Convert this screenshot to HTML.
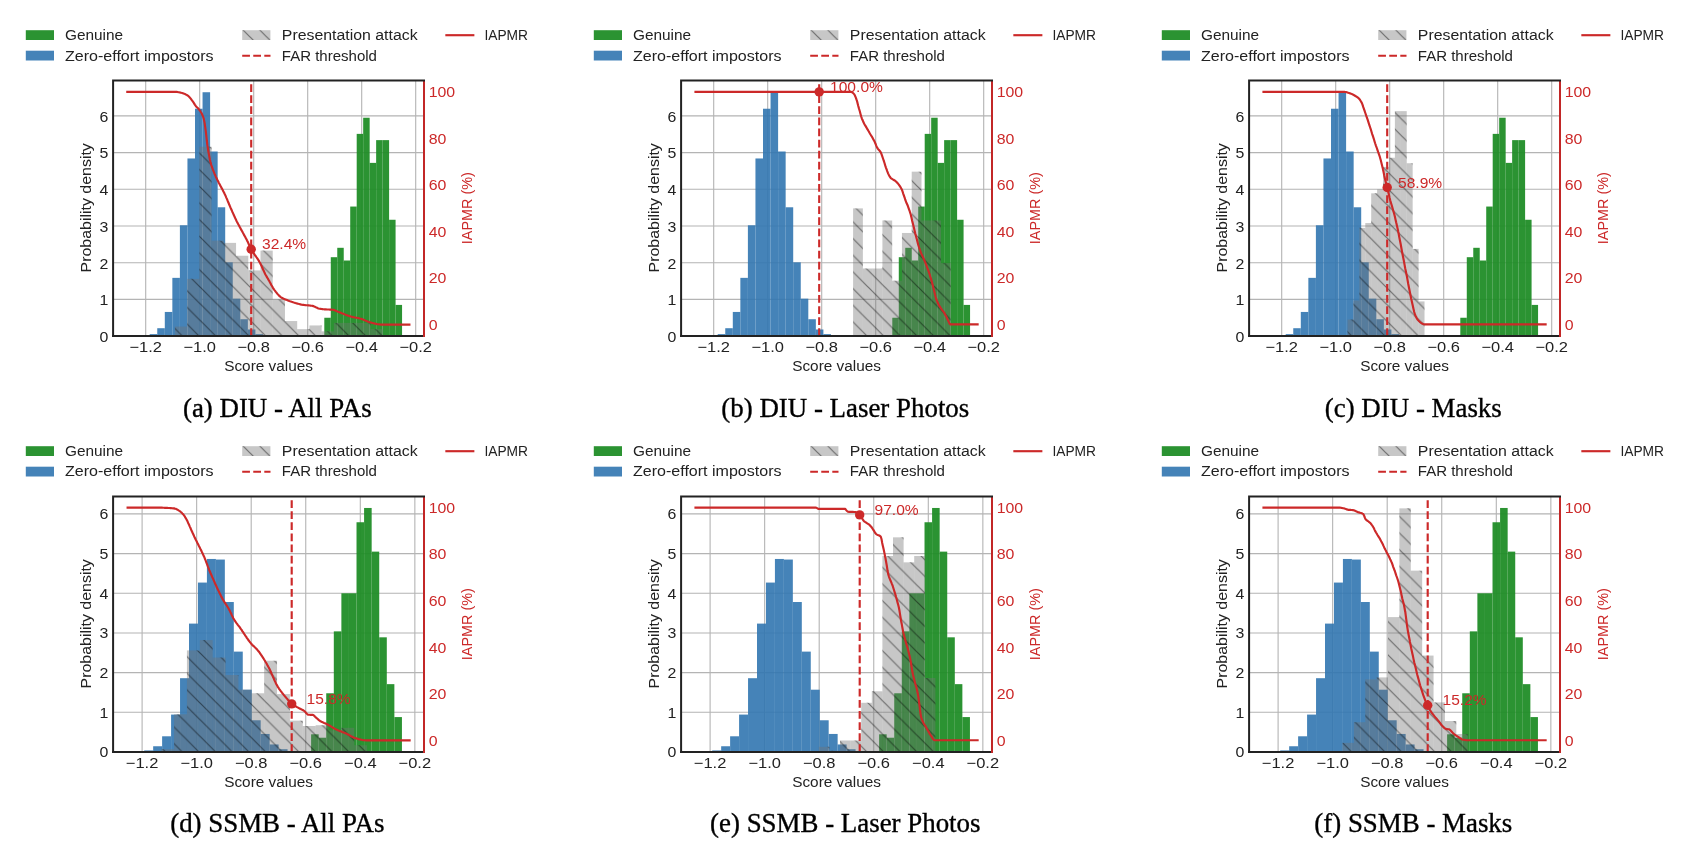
<!DOCTYPE html>
<html><head><meta charset="utf-8"><title>Figure</title>
<style>html,body{margin:0;padding:0;background:#fff}svg{display:block;will-change:transform}text{font-family:"Liberation Sans",sans-serif}text.cap{font-family:"Liberation Serif",serif}</style>
</head><body>
<svg width="1686" height="845" viewBox="0 0 1686 845">
<rect width="1686" height="845" fill="#fff"/>
<defs>
<pattern id="hatch0" patternUnits="userSpaceOnUse" x="0" y="-46.40" width="16.67" height="16.67"><path d="M-16.67,-16.67L33.34,33.34M0,-16.67L50.010000000000005,33.34M-33.34,-16.67L16.67,33.34" stroke="#000" stroke-opacity="0.45" stroke-width="1.2" fill="none"/></pattern>
<pattern id="hatch1" patternUnits="userSpaceOnUse" x="0" y="-46.40" width="16.67" height="16.67"><path d="M-16.67,-16.67L33.34,33.34M0,-16.67L50.010000000000005,33.34M-33.34,-16.67L16.67,33.34" stroke="#000" stroke-opacity="0.45" stroke-width="1.2" fill="none"/></pattern>
<clipPath id="clip"><rect x="113.1" y="80.6" width="310.9" height="255.50000000000003"/></clipPath>
</defs>
<g transform="translate(0,0)">
<rect x="25.8" y="30.2" width="28.2" height="9.8" fill="#208d27" fill-opacity="0.95"/>
<rect x="25.8" y="50.7" width="28.2" height="9.8" fill="#3176b0" fill-opacity="0.90"/>
<rect x="242.2" y="30.2" width="28.2" height="9.8" fill="#737373" fill-opacity="0.40"/>
<rect x="242.2" y="30.2" width="28.2" height="9.8" fill="url(#hatch0)"/>
<line x1="242.2" y1="55.7" x2="270.5" y2="55.7" stroke="#cc2929" stroke-width="2.15" stroke-dasharray="7.75 3.3"/>
<line x1="446.4" y1="35.2" x2="473.3" y2="35.2" stroke="#cc2929" stroke-width="2.15" stroke-linecap="square"/>
<text x="65.00" y="40.00" text-anchor="start" fill="#222222" font-size="14.7" textLength="58.12" lengthAdjust="spacingAndGlyphs">Genuine</text>
<text x="65.00" y="60.50" text-anchor="start" fill="#222222" font-size="14.7" textLength="148.51" lengthAdjust="spacingAndGlyphs">Zero-effort impostors</text>
<text x="281.80" y="40.00" text-anchor="start" fill="#222222" font-size="14.7" textLength="135.79" lengthAdjust="spacingAndGlyphs">Presentation attack</text>
<text x="281.80" y="60.50" text-anchor="start" fill="#222222" font-size="14.7" textLength="95.15" lengthAdjust="spacingAndGlyphs">FAR threshold</text>
<text x="484.40" y="40.00" text-anchor="start" fill="#222222" font-size="14.7" textLength="43.61" lengthAdjust="spacingAndGlyphs">IAPMR</text>
<path d="M145.70,80.6V336.1M199.70,80.6V336.1M253.70,80.6V336.1M307.70,80.6V336.1M361.70,80.6V336.1M415.70,80.6V336.1M113.1,299.40H424.0M113.1,262.70H424.0M113.1,226.00H424.0M113.1,189.30H424.0M113.1,152.60H424.0M113.1,115.90H424.0" stroke="#b4b4b4" stroke-width="1.1" fill="none"/>
<g clip-path="url(#clip)">
<g fill="#208d27" fill-opacity="0.95"><rect x="324.30" y="317.75" width="6.48" height="18.35"/><rect x="330.78" y="257.20" width="6.48" height="78.91"/><rect x="337.26" y="247.80" width="6.48" height="88.30"/><rect x="343.74" y="260.50" width="6.48" height="75.60"/><rect x="350.22" y="206.55" width="6.48" height="129.55"/><rect x="356.70" y="133.88" width="6.48" height="202.22"/><rect x="363.18" y="117.73" width="6.48" height="218.37"/><rect x="369.66" y="162.88" width="6.48" height="173.22"/><rect x="376.14" y="140.12" width="6.48" height="195.98"/><rect x="382.62" y="140.12" width="6.48" height="195.98"/><rect x="389.10" y="219.76" width="6.48" height="116.34"/><rect x="395.58" y="304.91" width="6.48" height="31.20"/></g>
<g fill="#3176b0" fill-opacity="0.9"><rect x="149.70" y="334.12" width="7.55" height="1.98"/><rect x="157.25" y="328.21" width="7.55" height="7.89"/><rect x="164.80" y="311.95" width="7.55" height="24.15"/><rect x="172.35" y="277.86" width="7.55" height="58.24"/><rect x="179.90" y="225.27" width="7.55" height="110.83"/><rect x="187.45" y="158.47" width="7.55" height="177.63"/><rect x="195.00" y="108.74" width="7.55" height="227.36"/><rect x="202.55" y="92.23" width="7.55" height="243.87"/><rect x="210.10" y="151.50" width="7.55" height="184.60"/><rect x="217.65" y="207.28" width="7.55" height="128.82"/><rect x="225.20" y="262.33" width="7.55" height="73.77"/><rect x="232.75" y="298.67" width="7.55" height="37.43"/><rect x="240.30" y="319.22" width="7.55" height="16.88"/><rect x="247.85" y="329.49" width="7.55" height="6.61"/><rect x="255.40" y="334.12" width="7.55" height="1.98"/></g>
<g fill="#737373" fill-opacity="0.4"><rect x="174.90" y="326.56" width="12.23" height="9.54"/><rect x="187.13" y="278.85" width="12.23" height="57.25"/><rect x="199.36" y="146.73" width="12.23" height="189.37"/><rect x="211.59" y="240.68" width="12.23" height="95.42"/><rect x="223.82" y="242.88" width="12.23" height="93.22"/><rect x="236.05" y="255.73" width="12.23" height="80.37"/><rect x="248.28" y="270.41" width="12.23" height="65.69"/><rect x="260.51" y="250.59" width="12.23" height="85.51"/><rect x="272.74" y="299.40" width="12.23" height="36.70"/><rect x="284.97" y="321.05" width="12.23" height="15.05"/><rect x="297.20" y="329.13" width="12.23" height="6.97"/><rect x="309.43" y="325.46" width="12.23" height="10.64"/><rect x="321.66" y="331.33" width="12.23" height="4.77"/><rect x="333.89" y="322.89" width="12.23" height="13.21"/><rect x="346.12" y="322.89" width="12.23" height="13.21"/><rect x="358.35" y="322.89" width="12.23" height="13.21"/><rect x="370.58" y="329.13" width="12.23" height="6.97"/></g>
<path d="M174.90,336.10V326.56H187.13V278.85H199.36V146.73H211.59V240.68H223.82V242.88H236.05V255.73H248.28V270.41H260.51V250.59H272.74V299.40H284.97V321.05H297.20V329.13H309.43V325.46H321.66V331.33H333.89V322.89H346.12V322.89H358.35V322.89H370.58V329.13H382.81V336.10Z" fill="url(#hatch0)"/>
</g>
<line x1="251.2" y1="336.1" x2="251.2" y2="80.6" stroke="#cc2929" stroke-width="2.15" stroke-dasharray="7.75 3.35"/>
<polyline points="127.3,91.8 175.3,91.8 176.1,91.9 176.8,91.9 177.6,92.0 178.3,92.2 179.1,92.3 179.8,92.5 180.6,92.6 181.0,92.7 181.3,92.8 182.1,93.0 182.8,93.2 183.6,93.5 184.3,93.8 185.1,94.1 185.8,94.5 186.6,94.9 187.3,95.3 187.7,95.6 188.1,95.8 188.8,96.5 189.6,97.3 190.3,98.2 191.1,99.2 191.8,100.2 192.6,101.2 192.7,101.4 193.3,102.2 194.1,103.4 194.8,104.6 195.6,105.7 196.0,106.3 196.3,106.7 197.1,107.4 197.8,108.1 198.6,108.9 199.3,109.8 199.3,109.8 200.1,110.8 200.8,112.0 201.6,113.3 202.3,114.8 203.1,116.7 203.5,118.0 203.8,119.1 204.6,122.9 205.1,126.3 205.3,127.6 206.1,133.8 206.8,140.5 207.5,146.0 207.6,146.3 208.3,151.1 209.1,155.4 209.8,159.2 210.4,161.8 210.6,162.4 211.3,165.0 212.1,167.3 212.8,169.4 213.6,171.4 214.3,173.2 214.5,173.7 215.1,175.0 215.8,176.7 216.6,178.2 217.3,179.7 218.1,181.2 218.7,182.5 218.8,182.7 219.6,184.2 220.3,185.6 221.1,187.0 221.8,188.4 222.6,189.7 223.3,191.2 224.1,192.7 224.6,193.8 224.8,194.2 225.6,195.9 226.3,197.6 227.1,199.4 227.8,201.2 228.6,203.0 229.3,204.8 230.1,206.6 230.5,207.6 230.8,208.3 231.6,210.0 232.3,211.7 233.1,213.4 233.8,215.1 234.6,216.7 235.3,218.3 236.1,219.9 236.3,220.4 236.8,221.4 237.6,222.9 238.3,224.3 239.1,225.7 239.8,227.1 240.6,228.5 241.3,229.9 242.1,231.2 242.8,232.6 242.9,232.8 243.6,234.0 244.3,235.4 245.1,236.7 245.8,238.1 246.6,239.5 247.0,240.4 247.3,241.0 248.1,242.6 248.8,244.3 249.6,245.9 250.3,247.5 251.1,249.0 251.2,249.3 251.8,250.4 252.6,251.6 253.3,252.7 254.1,253.8 254.8,254.9 255.6,256.0 256.3,257.0 257.1,258.1 257.8,259.2 258.6,260.4 259.3,261.6 259.5,262.0 260.1,263.0 260.8,264.5 261.6,266.1 262.3,267.8 263.1,269.5 263.8,271.1 264.6,272.7 265.3,274.2 265.7,275.0 266.1,275.6 266.8,276.9 267.6,278.2 268.3,279.4 268.4,279.6 269.1,280.8 269.8,282.1 270.6,283.5 271.3,285.0 272.1,286.3 272.8,287.6 273.6,288.8 274.1,289.6 274.3,289.9 275.1,290.9 275.8,291.9 276.6,292.8 277.3,293.7 278.1,294.6 278.8,295.4 279.6,296.1 280.3,296.8 281.1,297.3 281.2,297.4 281.8,297.8 282.6,298.2 283.3,298.6 284.1,298.9 284.8,299.2 285.6,299.6 286.3,299.8 287.1,300.1 287.8,300.4 288.3,300.6 288.6,300.7 289.3,301.0 290.1,301.3 290.8,301.5 291.6,301.8 292.3,302.0 293.1,302.3 293.8,302.5 294.6,302.7 295.3,303.0 295.4,303.0 296.1,303.2 296.8,303.4 297.6,303.6 298.3,303.8 299.1,304.0 299.8,304.2 300.6,304.4 301.3,304.6 302.1,304.7 302.5,304.8 302.8,304.8 303.6,304.9 304.3,305.0 305.1,305.1 305.8,305.2 306.6,305.2 307.3,305.3 308.1,305.4 308.8,305.4 309.6,305.5 310.3,305.6 311.1,305.7 311.8,305.8 312.4,305.9 312.6,305.9 313.3,306.1 314.1,306.4 314.8,306.7 315.6,307.1 316.3,307.5 317.1,307.8 317.8,308.2 318.6,308.5 319.3,308.7 319.5,308.7 320.1,308.8 320.8,308.9 321.6,309.0 322.3,309.1 323.1,309.2 323.8,309.3 324.6,309.4 325.2,309.4 325.3,309.4 326.1,309.4 326.8,309.5 327.6,309.5 328.3,309.5 329.1,309.5 329.8,309.6 330.6,309.6 331.3,309.6 332.1,309.7 332.3,309.7 332.8,309.8 333.6,309.9 334.3,310.1 335.1,310.4 335.8,310.7 336.6,311.1 337.3,311.4 338.1,311.7 338.8,312.1 339.4,312.3 339.6,312.4 340.3,312.6 341.1,312.9 341.8,313.2 342.6,313.5 343.3,313.8 344.1,314.1 344.8,314.4 345.6,314.7 346.3,315.0 347.1,315.3 347.8,315.6 348.6,315.8 349.3,316.1 350.1,316.3 350.7,316.5 350.8,316.5 351.6,316.7 352.3,316.9 353.1,317.1 353.8,317.2 354.6,317.4 355.3,317.5 356.1,317.7 356.8,317.8 357.6,318.0 358.3,318.1 359.1,318.3 359.8,318.5 360.6,318.7 360.7,318.7 361.3,318.9 362.1,319.1 362.8,319.4 363.6,319.7 364.3,320.0 365.1,320.4 365.8,320.7 366.6,321.0 367.3,321.4 368.1,321.7 368.8,321.9 369.6,322.2 370.3,322.4 370.6,322.5 371.1,322.6 371.8,322.8 372.6,323.0 373.3,323.2 374.1,323.4 374.8,323.6 375.6,323.7 376.3,323.9 377.1,324.1 377.8,324.2 378.6,324.3 379.3,324.4 380.1,324.5 380.8,324.6 381.6,324.6 409.4,324.6" fill="none" stroke="#cc2929" stroke-width="2.15" stroke-linejoin="round" stroke-linecap="square"/>
<circle cx="251.2" cy="249.21" r="4.7" fill="#cc2929"/>
<text x="262.00" y="249.41" text-anchor="start" fill="#cc2929" font-size="14.7" textLength="44.12" lengthAdjust="spacingAndGlyphs">32.4%</text>
<path d="M113.1,336.1H424.0" stroke="#222222" stroke-width="2" fill="none" stroke-linecap="square"/>
<path d="M424.0,80.6V337.1" stroke="#c22727" stroke-width="2" fill="none" stroke-linecap="butt"/>
<path d="M113.1,336.1V80.6H424.0" stroke="#222222" stroke-width="2" fill="none" stroke-linecap="square"/>
<text x="108.30" y="341.90" text-anchor="end" fill="#222222" font-size="14.7" textLength="8.84" lengthAdjust="spacingAndGlyphs">0</text>
<text x="108.30" y="305.20" text-anchor="end" fill="#222222" font-size="14.7" textLength="8.84" lengthAdjust="spacingAndGlyphs">1</text>
<text x="108.30" y="268.50" text-anchor="end" fill="#222222" font-size="14.7" textLength="8.84" lengthAdjust="spacingAndGlyphs">2</text>
<text x="108.30" y="231.80" text-anchor="end" fill="#222222" font-size="14.7" textLength="8.84" lengthAdjust="spacingAndGlyphs">3</text>
<text x="108.30" y="195.10" text-anchor="end" fill="#222222" font-size="14.7" textLength="8.84" lengthAdjust="spacingAndGlyphs">4</text>
<text x="108.30" y="158.40" text-anchor="end" fill="#222222" font-size="14.7" textLength="8.84" lengthAdjust="spacingAndGlyphs">5</text>
<text x="108.30" y="121.70" text-anchor="end" fill="#222222" font-size="14.7" textLength="8.84" lengthAdjust="spacingAndGlyphs">6</text>
<text x="145.70" y="352.10" text-anchor="middle" fill="#222222" font-size="14.7" textLength="32.55" lengthAdjust="spacingAndGlyphs">−1.2</text>
<text x="199.70" y="352.10" text-anchor="middle" fill="#222222" font-size="14.7" textLength="32.55" lengthAdjust="spacingAndGlyphs">−1.0</text>
<text x="253.70" y="352.10" text-anchor="middle" fill="#222222" font-size="14.7" textLength="32.55" lengthAdjust="spacingAndGlyphs">−0.8</text>
<text x="307.70" y="352.10" text-anchor="middle" fill="#222222" font-size="14.7" textLength="32.55" lengthAdjust="spacingAndGlyphs">−0.6</text>
<text x="361.70" y="352.10" text-anchor="middle" fill="#222222" font-size="14.7" textLength="32.55" lengthAdjust="spacingAndGlyphs">−0.4</text>
<text x="415.70" y="352.10" text-anchor="middle" fill="#222222" font-size="14.7" textLength="32.55" lengthAdjust="spacingAndGlyphs">−0.2</text>
<text x="428.70" y="330.00" text-anchor="start" fill="#cc2929" font-size="14.7" textLength="8.84" lengthAdjust="spacingAndGlyphs">0</text>
<text x="428.70" y="283.46" text-anchor="start" fill="#cc2929" font-size="14.7" textLength="17.68" lengthAdjust="spacingAndGlyphs">20</text>
<text x="428.70" y="236.92" text-anchor="start" fill="#cc2929" font-size="14.7" textLength="17.68" lengthAdjust="spacingAndGlyphs">40</text>
<text x="428.70" y="190.38" text-anchor="start" fill="#cc2929" font-size="14.7" textLength="17.68" lengthAdjust="spacingAndGlyphs">60</text>
<text x="428.70" y="143.84" text-anchor="start" fill="#cc2929" font-size="14.7" textLength="17.68" lengthAdjust="spacingAndGlyphs">80</text>
<text x="428.70" y="97.30" text-anchor="start" fill="#cc2929" font-size="14.7" textLength="26.51" lengthAdjust="spacingAndGlyphs">100</text>
<text x="268.60" y="371.20" text-anchor="middle" fill="#222222" font-size="14.7" textLength="88.80" lengthAdjust="spacingAndGlyphs">Score values</text>
<text x="91.00" y="207.80" text-anchor="middle" fill="#222222" font-size="14.7" textLength="129.32" lengthAdjust="spacingAndGlyphs" transform="rotate(-90 91.00 207.80)">Probability density</text>
<text x="472.00" y="208.20" text-anchor="middle" fill="#cc2929" font-size="14.7" textLength="72.06" lengthAdjust="spacingAndGlyphs" transform="rotate(-90 472.00 208.20)">IAPMR (%)</text>
<text class="cap" x="277.30" y="416.9" text-anchor="middle" fill="#000" stroke="#000" stroke-width="0.35" font-size="26.9">(a) DIU - All PAs</text>
</g>
<g transform="translate(568,0)">
<rect x="25.8" y="30.2" width="28.2" height="9.8" fill="#208d27" fill-opacity="0.95"/>
<rect x="25.8" y="50.7" width="28.2" height="9.8" fill="#3176b0" fill-opacity="0.90"/>
<rect x="242.2" y="30.2" width="28.2" height="9.8" fill="#737373" fill-opacity="0.40"/>
<rect x="242.2" y="30.2" width="28.2" height="9.8" fill="url(#hatch0)"/>
<line x1="242.2" y1="55.7" x2="270.5" y2="55.7" stroke="#cc2929" stroke-width="2.15" stroke-dasharray="7.75 3.3"/>
<line x1="446.4" y1="35.2" x2="473.3" y2="35.2" stroke="#cc2929" stroke-width="2.15" stroke-linecap="square"/>
<text x="65.00" y="40.00" text-anchor="start" fill="#222222" font-size="14.7" textLength="58.12" lengthAdjust="spacingAndGlyphs">Genuine</text>
<text x="65.00" y="60.50" text-anchor="start" fill="#222222" font-size="14.7" textLength="148.51" lengthAdjust="spacingAndGlyphs">Zero-effort impostors</text>
<text x="281.80" y="40.00" text-anchor="start" fill="#222222" font-size="14.7" textLength="135.79" lengthAdjust="spacingAndGlyphs">Presentation attack</text>
<text x="281.80" y="60.50" text-anchor="start" fill="#222222" font-size="14.7" textLength="95.15" lengthAdjust="spacingAndGlyphs">FAR threshold</text>
<text x="484.40" y="40.00" text-anchor="start" fill="#222222" font-size="14.7" textLength="43.61" lengthAdjust="spacingAndGlyphs">IAPMR</text>
<path d="M145.70,80.6V336.1M199.70,80.6V336.1M253.70,80.6V336.1M307.70,80.6V336.1M361.70,80.6V336.1M415.70,80.6V336.1M113.1,299.40H424.0M113.1,262.70H424.0M113.1,226.00H424.0M113.1,189.30H424.0M113.1,152.60H424.0M113.1,115.90H424.0" stroke="#b4b4b4" stroke-width="1.1" fill="none"/>
<g clip-path="url(#clip)">
<g fill="#208d27" fill-opacity="0.95"><rect x="324.30" y="317.75" width="6.48" height="18.35"/><rect x="330.78" y="257.20" width="6.48" height="78.91"/><rect x="337.26" y="247.80" width="6.48" height="88.30"/><rect x="343.74" y="260.50" width="6.48" height="75.60"/><rect x="350.22" y="206.55" width="6.48" height="129.55"/><rect x="356.70" y="133.88" width="6.48" height="202.22"/><rect x="363.18" y="117.73" width="6.48" height="218.37"/><rect x="369.66" y="162.88" width="6.48" height="173.22"/><rect x="376.14" y="140.12" width="6.48" height="195.98"/><rect x="382.62" y="140.12" width="6.48" height="195.98"/><rect x="389.10" y="219.76" width="6.48" height="116.34"/><rect x="395.58" y="304.91" width="6.48" height="31.20"/></g>
<g fill="#3176b0" fill-opacity="0.9"><rect x="149.70" y="334.12" width="7.55" height="1.98"/><rect x="157.25" y="328.21" width="7.55" height="7.89"/><rect x="164.80" y="311.95" width="7.55" height="24.15"/><rect x="172.35" y="277.86" width="7.55" height="58.24"/><rect x="179.90" y="225.27" width="7.55" height="110.83"/><rect x="187.45" y="158.47" width="7.55" height="177.63"/><rect x="195.00" y="108.74" width="7.55" height="227.36"/><rect x="202.55" y="92.23" width="7.55" height="243.87"/><rect x="210.10" y="151.50" width="7.55" height="184.60"/><rect x="217.65" y="207.28" width="7.55" height="128.82"/><rect x="225.20" y="262.33" width="7.55" height="73.77"/><rect x="232.75" y="298.67" width="7.55" height="37.43"/><rect x="240.30" y="319.22" width="7.55" height="16.88"/><rect x="247.85" y="329.49" width="7.55" height="6.61"/><rect x="255.40" y="334.12" width="7.55" height="1.98"/></g>
<g fill="#737373" fill-opacity="0.4"><rect x="285.10" y="208.38" width="9.77" height="127.72"/><rect x="294.87" y="268.50" width="9.77" height="67.60"/><rect x="304.64" y="268.50" width="9.77" height="67.60"/><rect x="314.41" y="220.50" width="9.77" height="115.61"/><rect x="324.18" y="280.68" width="9.77" height="55.42"/><rect x="333.95" y="232.97" width="9.77" height="103.13"/><rect x="343.72" y="171.68" width="9.77" height="164.42"/><rect x="353.49" y="220.50" width="9.77" height="115.61"/><rect x="363.26" y="220.50" width="9.77" height="115.61"/><rect x="373.03" y="263.07" width="9.77" height="73.03"/></g>
<path d="M285.10,336.10V208.38H294.87V268.50H304.64V268.50H314.41V220.50H324.18V280.68H333.95V232.97H343.72V171.68H353.49V220.50H363.26V220.50H373.03V263.07H382.80V336.10Z" fill="url(#hatch0)"/>
</g>
<line x1="251.2" y1="336.1" x2="251.2" y2="80.6" stroke="#cc2929" stroke-width="2.15" stroke-dasharray="7.75 3.35"/>
<polyline points="127.5,91.9 282.8,91.9 283.5,92.0 284.2,92.4 285.0,93.0 285.8,93.7 286.1,94.1 286.5,94.6 287.2,96.2 288.0,98.2 288.6,99.9 288.8,100.3 289.5,102.9 290.2,105.8 291.0,108.6 291.1,109.0 291.8,111.3 292.5,114.0 293.2,116.5 294.0,118.8 294.4,119.8 294.8,120.6 295.5,122.3 296.2,123.7 297.0,125.1 297.8,126.4 298.5,127.6 299.2,128.9 300.0,130.1 300.2,130.5 300.8,131.5 301.5,132.8 302.2,134.0 303.0,135.3 303.8,136.5 304.5,137.8 305.2,139.1 306.0,140.5 306.8,142.0 306.8,142.1 307.5,143.7 308.2,145.6 309.0,147.3 309.3,147.9 309.8,148.6 310.5,149.5 311.2,150.3 312.0,151.2 312.6,152.1 312.8,152.4 313.5,154.1 314.2,156.2 315.0,158.5 315.8,160.8 315.9,161.2 316.5,163.0 317.2,165.4 318.0,167.8 318.8,169.9 319.2,171.1 319.5,171.8 320.2,173.6 321.0,175.3 321.8,176.7 322.5,177.7 323.2,178.4 324.0,178.9 324.8,179.4 325.5,179.8 326.2,180.2 327.0,180.7 327.5,181.1 327.8,181.3 328.5,182.0 329.2,182.8 330.0,183.6 330.8,184.6 331.5,185.6 332.2,186.7 333.0,188.0 333.3,188.5 333.8,189.4 334.5,191.3 335.2,193.6 336.0,195.9 336.8,198.2 337.2,199.5 337.5,200.3 338.2,202.2 339.0,204.0 339.8,205.8 340.5,207.8 341.2,209.8 341.7,211.2 342.0,212.2 342.8,214.8 343.5,217.8 344.2,220.9 345.0,224.1 345.8,227.3 346.5,230.3 346.8,231.5 347.2,233.2 348.0,236.2 348.8,239.1 349.5,242.0 350.2,244.7 351.0,247.3 351.8,249.6 351.8,249.7 352.5,251.6 353.2,253.4 354.0,255.1 354.8,256.7 355.5,258.4 356.2,260.1 356.8,261.3 357.0,261.9 357.8,263.8 358.5,265.7 359.2,267.7 360.0,269.7 360.8,271.8 361.5,274.0 361.7,274.6 362.2,276.4 363.0,278.9 363.8,281.6 364.5,284.3 365.0,286.2 365.2,287.2 366.0,290.3 366.8,293.5 367.5,296.5 368.2,299.1 368.4,299.5 369.0,301.0 369.8,302.7 370.5,304.2 371.2,305.6 372.0,306.9 372.5,307.7 372.8,308.1 373.5,309.2 374.2,310.2 375.0,311.2 375.8,312.2 376.5,313.3 376.6,313.5 377.2,314.7 378.0,316.1 378.8,317.7 379.5,319.2 380.0,320.2 380.2,320.7 381.0,322.4 381.8,323.9 382.4,324.4 409.6,324.4" fill="none" stroke="#cc2929" stroke-width="2.15" stroke-linejoin="round" stroke-linecap="square"/>
<circle cx="251.2" cy="91.90" r="4.7" fill="#cc2929"/>
<text x="262.00" y="92.10" text-anchor="start" fill="#cc2929" font-size="14.7" textLength="52.96" lengthAdjust="spacingAndGlyphs">100.0%</text>
<path d="M113.1,336.1H424.0" stroke="#222222" stroke-width="2" fill="none" stroke-linecap="square"/>
<path d="M424.0,80.6V337.1" stroke="#c22727" stroke-width="2" fill="none" stroke-linecap="butt"/>
<path d="M113.1,336.1V80.6H424.0" stroke="#222222" stroke-width="2" fill="none" stroke-linecap="square"/>
<text x="108.30" y="341.90" text-anchor="end" fill="#222222" font-size="14.7" textLength="8.84" lengthAdjust="spacingAndGlyphs">0</text>
<text x="108.30" y="305.20" text-anchor="end" fill="#222222" font-size="14.7" textLength="8.84" lengthAdjust="spacingAndGlyphs">1</text>
<text x="108.30" y="268.50" text-anchor="end" fill="#222222" font-size="14.7" textLength="8.84" lengthAdjust="spacingAndGlyphs">2</text>
<text x="108.30" y="231.80" text-anchor="end" fill="#222222" font-size="14.7" textLength="8.84" lengthAdjust="spacingAndGlyphs">3</text>
<text x="108.30" y="195.10" text-anchor="end" fill="#222222" font-size="14.7" textLength="8.84" lengthAdjust="spacingAndGlyphs">4</text>
<text x="108.30" y="158.40" text-anchor="end" fill="#222222" font-size="14.7" textLength="8.84" lengthAdjust="spacingAndGlyphs">5</text>
<text x="108.30" y="121.70" text-anchor="end" fill="#222222" font-size="14.7" textLength="8.84" lengthAdjust="spacingAndGlyphs">6</text>
<text x="145.70" y="352.10" text-anchor="middle" fill="#222222" font-size="14.7" textLength="32.55" lengthAdjust="spacingAndGlyphs">−1.2</text>
<text x="199.70" y="352.10" text-anchor="middle" fill="#222222" font-size="14.7" textLength="32.55" lengthAdjust="spacingAndGlyphs">−1.0</text>
<text x="253.70" y="352.10" text-anchor="middle" fill="#222222" font-size="14.7" textLength="32.55" lengthAdjust="spacingAndGlyphs">−0.8</text>
<text x="307.70" y="352.10" text-anchor="middle" fill="#222222" font-size="14.7" textLength="32.55" lengthAdjust="spacingAndGlyphs">−0.6</text>
<text x="361.70" y="352.10" text-anchor="middle" fill="#222222" font-size="14.7" textLength="32.55" lengthAdjust="spacingAndGlyphs">−0.4</text>
<text x="415.70" y="352.10" text-anchor="middle" fill="#222222" font-size="14.7" textLength="32.55" lengthAdjust="spacingAndGlyphs">−0.2</text>
<text x="428.70" y="330.00" text-anchor="start" fill="#cc2929" font-size="14.7" textLength="8.84" lengthAdjust="spacingAndGlyphs">0</text>
<text x="428.70" y="283.46" text-anchor="start" fill="#cc2929" font-size="14.7" textLength="17.68" lengthAdjust="spacingAndGlyphs">20</text>
<text x="428.70" y="236.92" text-anchor="start" fill="#cc2929" font-size="14.7" textLength="17.68" lengthAdjust="spacingAndGlyphs">40</text>
<text x="428.70" y="190.38" text-anchor="start" fill="#cc2929" font-size="14.7" textLength="17.68" lengthAdjust="spacingAndGlyphs">60</text>
<text x="428.70" y="143.84" text-anchor="start" fill="#cc2929" font-size="14.7" textLength="17.68" lengthAdjust="spacingAndGlyphs">80</text>
<text x="428.70" y="97.30" text-anchor="start" fill="#cc2929" font-size="14.7" textLength="26.51" lengthAdjust="spacingAndGlyphs">100</text>
<text x="268.60" y="371.20" text-anchor="middle" fill="#222222" font-size="14.7" textLength="88.80" lengthAdjust="spacingAndGlyphs">Score values</text>
<text x="91.00" y="207.80" text-anchor="middle" fill="#222222" font-size="14.7" textLength="129.32" lengthAdjust="spacingAndGlyphs" transform="rotate(-90 91.00 207.80)">Probability density</text>
<text x="472.00" y="208.20" text-anchor="middle" fill="#cc2929" font-size="14.7" textLength="72.06" lengthAdjust="spacingAndGlyphs" transform="rotate(-90 472.00 208.20)">IAPMR (%)</text>
<text class="cap" x="277.30" y="416.9" text-anchor="middle" fill="#000" stroke="#000" stroke-width="0.35" font-size="26.9">(b) DIU - Laser Photos</text>
</g>
<g transform="translate(1136,0)">
<rect x="25.8" y="30.2" width="28.2" height="9.8" fill="#208d27" fill-opacity="0.95"/>
<rect x="25.8" y="50.7" width="28.2" height="9.8" fill="#3176b0" fill-opacity="0.90"/>
<rect x="242.2" y="30.2" width="28.2" height="9.8" fill="#737373" fill-opacity="0.40"/>
<rect x="242.2" y="30.2" width="28.2" height="9.8" fill="url(#hatch0)"/>
<line x1="242.2" y1="55.7" x2="270.5" y2="55.7" stroke="#cc2929" stroke-width="2.15" stroke-dasharray="7.75 3.3"/>
<line x1="446.4" y1="35.2" x2="473.3" y2="35.2" stroke="#cc2929" stroke-width="2.15" stroke-linecap="square"/>
<text x="65.00" y="40.00" text-anchor="start" fill="#222222" font-size="14.7" textLength="58.12" lengthAdjust="spacingAndGlyphs">Genuine</text>
<text x="65.00" y="60.50" text-anchor="start" fill="#222222" font-size="14.7" textLength="148.51" lengthAdjust="spacingAndGlyphs">Zero-effort impostors</text>
<text x="281.80" y="40.00" text-anchor="start" fill="#222222" font-size="14.7" textLength="135.79" lengthAdjust="spacingAndGlyphs">Presentation attack</text>
<text x="281.80" y="60.50" text-anchor="start" fill="#222222" font-size="14.7" textLength="95.15" lengthAdjust="spacingAndGlyphs">FAR threshold</text>
<text x="484.40" y="40.00" text-anchor="start" fill="#222222" font-size="14.7" textLength="43.61" lengthAdjust="spacingAndGlyphs">IAPMR</text>
<path d="M145.70,80.6V336.1M199.70,80.6V336.1M253.70,80.6V336.1M307.70,80.6V336.1M361.70,80.6V336.1M415.70,80.6V336.1M113.1,299.40H424.0M113.1,262.70H424.0M113.1,226.00H424.0M113.1,189.30H424.0M113.1,152.60H424.0M113.1,115.90H424.0" stroke="#b4b4b4" stroke-width="1.1" fill="none"/>
<g clip-path="url(#clip)">
<g fill="#208d27" fill-opacity="0.95"><rect x="324.30" y="317.75" width="6.48" height="18.35"/><rect x="330.78" y="257.20" width="6.48" height="78.91"/><rect x="337.26" y="247.80" width="6.48" height="88.30"/><rect x="343.74" y="260.50" width="6.48" height="75.60"/><rect x="350.22" y="206.55" width="6.48" height="129.55"/><rect x="356.70" y="133.88" width="6.48" height="202.22"/><rect x="363.18" y="117.73" width="6.48" height="218.37"/><rect x="369.66" y="162.88" width="6.48" height="173.22"/><rect x="376.14" y="140.12" width="6.48" height="195.98"/><rect x="382.62" y="140.12" width="6.48" height="195.98"/><rect x="389.10" y="219.76" width="6.48" height="116.34"/><rect x="395.58" y="304.91" width="6.48" height="31.20"/></g>
<g fill="#3176b0" fill-opacity="0.9"><rect x="149.70" y="334.12" width="7.55" height="1.98"/><rect x="157.25" y="328.21" width="7.55" height="7.89"/><rect x="164.80" y="311.95" width="7.55" height="24.15"/><rect x="172.35" y="277.86" width="7.55" height="58.24"/><rect x="179.90" y="225.27" width="7.55" height="110.83"/><rect x="187.45" y="158.47" width="7.55" height="177.63"/><rect x="195.00" y="108.74" width="7.55" height="227.36"/><rect x="202.55" y="92.23" width="7.55" height="243.87"/><rect x="210.10" y="151.50" width="7.55" height="184.60"/><rect x="217.65" y="207.28" width="7.55" height="128.82"/><rect x="225.20" y="262.33" width="7.55" height="73.77"/><rect x="232.75" y="298.67" width="7.55" height="37.43"/><rect x="240.30" y="319.22" width="7.55" height="16.88"/><rect x="247.85" y="329.49" width="7.55" height="6.61"/><rect x="255.40" y="334.12" width="7.55" height="1.98"/></g>
<g fill="#737373" fill-opacity="0.4"><rect x="211.50" y="319.59" width="5.92" height="16.52"/><rect x="217.43" y="300.50" width="5.92" height="35.60"/><rect x="223.35" y="227.84" width="5.92" height="108.27"/><rect x="229.28" y="223.06" width="5.92" height="113.04"/><rect x="235.20" y="193.34" width="5.92" height="142.76"/><rect x="241.12" y="189.30" width="5.92" height="146.80"/><rect x="247.05" y="166.91" width="5.92" height="169.19"/><rect x="252.97" y="157.74" width="5.92" height="178.36"/><rect x="258.90" y="111.13" width="5.92" height="224.97"/><rect x="264.82" y="111.13" width="5.92" height="224.97"/><rect x="270.75" y="163.24" width="5.92" height="172.86"/><rect x="276.68" y="248.90" width="5.92" height="87.20"/><rect x="282.60" y="301.42" width="5.92" height="34.68"/></g>
<path d="M211.50,336.10V319.59H217.43V300.50H223.35V227.84H229.28V223.06H235.20V193.34H241.12V189.30H247.05V166.91H252.98V157.74H258.90V111.13H264.82V111.13H270.75V163.24H276.68V248.90H282.60V301.42H288.53V336.10Z" fill="url(#hatch0)"/>
</g>
<line x1="251.2" y1="336.1" x2="251.2" y2="80.6" stroke="#cc2929" stroke-width="2.15" stroke-dasharray="7.75 3.35"/>
<polyline points="127.5,91.9 208.5,91.9 209.2,92.0 210.0,92.1 210.8,92.3 211.5,92.5 212.2,92.8 213.0,93.0 213.8,93.3 213.9,93.3 214.5,93.5 215.2,93.8 216.0,94.1 216.8,94.5 217.5,94.9 218.2,95.3 218.9,95.7 219.0,95.8 219.8,96.2 220.5,96.6 221.2,97.1 222.0,97.7 222.8,98.4 223.0,98.6 223.5,99.2 224.2,100.2 225.0,101.5 225.5,102.4 225.8,102.9 226.5,104.7 227.2,106.9 228.0,109.1 228.8,111.4 228.8,111.5 229.5,113.5 230.2,115.7 231.0,117.9 231.8,120.2 232.5,122.4 233.2,124.7 233.8,126.4 234.0,127.0 234.8,129.3 235.5,131.7 236.2,134.1 237.0,136.4 237.8,138.8 238.5,141.2 239.2,143.5 239.6,144.6 240.0,145.8 240.8,148.0 241.5,150.1 242.2,152.2 243.0,154.4 243.8,156.7 244.5,159.2 244.6,159.6 245.2,162.0 246.0,165.2 246.8,168.4 247.0,169.5 247.5,171.8 248.2,175.4 249.0,178.9 249.5,181.1 249.8,182.1 250.5,185.0 251.2,187.7 251.2,187.9 252.0,191.0 252.8,194.3 253.5,197.4 253.9,199.0 254.2,200.3 255.0,203.0 255.8,205.5 256.5,208.0 257.2,210.5 258.0,213.3 258.8,216.3 259.5,219.4 260.2,222.6 261.0,225.9 261.8,229.4 262.2,231.5 262.5,232.9 263.2,236.7 264.0,240.7 264.8,244.7 265.5,248.8 266.2,252.7 266.3,253.0 267.0,256.6 267.8,260.5 268.5,264.4 269.2,268.2 270.0,272.0 270.5,274.6 270.8,275.9 271.5,279.8 272.2,283.8 273.0,287.7 273.8,291.6 274.5,295.3 275.2,298.8 275.4,299.5 276.0,302.2 276.8,305.7 277.5,309.0 278.2,312.0 279.0,314.5 279.6,316.0 279.8,316.3 280.5,317.7 281.2,319.0 282.0,320.0 282.8,320.9 283.5,321.6 283.7,321.8 284.2,322.2 285.0,322.8 285.8,323.3 286.5,323.8 287.2,324.1 288.0,324.3 288.7,324.4 409.6,324.4" fill="none" stroke="#cc2929" stroke-width="2.15" stroke-linejoin="round" stroke-linecap="square"/>
<circle cx="251.2" cy="187.54" r="4.7" fill="#cc2929"/>
<text x="262.00" y="187.74" text-anchor="start" fill="#cc2929" font-size="14.7" textLength="44.12" lengthAdjust="spacingAndGlyphs">58.9%</text>
<path d="M113.1,336.1H424.0" stroke="#222222" stroke-width="2" fill="none" stroke-linecap="square"/>
<path d="M424.0,80.6V337.1" stroke="#c22727" stroke-width="2" fill="none" stroke-linecap="butt"/>
<path d="M113.1,336.1V80.6H424.0" stroke="#222222" stroke-width="2" fill="none" stroke-linecap="square"/>
<text x="108.30" y="341.90" text-anchor="end" fill="#222222" font-size="14.7" textLength="8.84" lengthAdjust="spacingAndGlyphs">0</text>
<text x="108.30" y="305.20" text-anchor="end" fill="#222222" font-size="14.7" textLength="8.84" lengthAdjust="spacingAndGlyphs">1</text>
<text x="108.30" y="268.50" text-anchor="end" fill="#222222" font-size="14.7" textLength="8.84" lengthAdjust="spacingAndGlyphs">2</text>
<text x="108.30" y="231.80" text-anchor="end" fill="#222222" font-size="14.7" textLength="8.84" lengthAdjust="spacingAndGlyphs">3</text>
<text x="108.30" y="195.10" text-anchor="end" fill="#222222" font-size="14.7" textLength="8.84" lengthAdjust="spacingAndGlyphs">4</text>
<text x="108.30" y="158.40" text-anchor="end" fill="#222222" font-size="14.7" textLength="8.84" lengthAdjust="spacingAndGlyphs">5</text>
<text x="108.30" y="121.70" text-anchor="end" fill="#222222" font-size="14.7" textLength="8.84" lengthAdjust="spacingAndGlyphs">6</text>
<text x="145.70" y="352.10" text-anchor="middle" fill="#222222" font-size="14.7" textLength="32.55" lengthAdjust="spacingAndGlyphs">−1.2</text>
<text x="199.70" y="352.10" text-anchor="middle" fill="#222222" font-size="14.7" textLength="32.55" lengthAdjust="spacingAndGlyphs">−1.0</text>
<text x="253.70" y="352.10" text-anchor="middle" fill="#222222" font-size="14.7" textLength="32.55" lengthAdjust="spacingAndGlyphs">−0.8</text>
<text x="307.70" y="352.10" text-anchor="middle" fill="#222222" font-size="14.7" textLength="32.55" lengthAdjust="spacingAndGlyphs">−0.6</text>
<text x="361.70" y="352.10" text-anchor="middle" fill="#222222" font-size="14.7" textLength="32.55" lengthAdjust="spacingAndGlyphs">−0.4</text>
<text x="415.70" y="352.10" text-anchor="middle" fill="#222222" font-size="14.7" textLength="32.55" lengthAdjust="spacingAndGlyphs">−0.2</text>
<text x="428.70" y="330.00" text-anchor="start" fill="#cc2929" font-size="14.7" textLength="8.84" lengthAdjust="spacingAndGlyphs">0</text>
<text x="428.70" y="283.46" text-anchor="start" fill="#cc2929" font-size="14.7" textLength="17.68" lengthAdjust="spacingAndGlyphs">20</text>
<text x="428.70" y="236.92" text-anchor="start" fill="#cc2929" font-size="14.7" textLength="17.68" lengthAdjust="spacingAndGlyphs">40</text>
<text x="428.70" y="190.38" text-anchor="start" fill="#cc2929" font-size="14.7" textLength="17.68" lengthAdjust="spacingAndGlyphs">60</text>
<text x="428.70" y="143.84" text-anchor="start" fill="#cc2929" font-size="14.7" textLength="17.68" lengthAdjust="spacingAndGlyphs">80</text>
<text x="428.70" y="97.30" text-anchor="start" fill="#cc2929" font-size="14.7" textLength="26.51" lengthAdjust="spacingAndGlyphs">100</text>
<text x="268.60" y="371.20" text-anchor="middle" fill="#222222" font-size="14.7" textLength="88.80" lengthAdjust="spacingAndGlyphs">Score values</text>
<text x="91.00" y="207.80" text-anchor="middle" fill="#222222" font-size="14.7" textLength="129.32" lengthAdjust="spacingAndGlyphs" transform="rotate(-90 91.00 207.80)">Probability density</text>
<text x="472.00" y="208.20" text-anchor="middle" fill="#cc2929" font-size="14.7" textLength="72.06" lengthAdjust="spacingAndGlyphs" transform="rotate(-90 472.00 208.20)">IAPMR (%)</text>
<text class="cap" x="277.30" y="416.9" text-anchor="middle" fill="#000" stroke="#000" stroke-width="0.35" font-size="26.9">(c) DIU - Masks</text>
</g>
<g transform="translate(0,416)">
<rect x="25.8" y="30.2" width="28.2" height="9.8" fill="#208d27" fill-opacity="0.95"/>
<rect x="25.8" y="50.7" width="28.2" height="9.8" fill="#3176b0" fill-opacity="0.90"/>
<rect x="242.2" y="30.2" width="28.2" height="9.8" fill="#737373" fill-opacity="0.40"/>
<rect x="242.2" y="30.2" width="28.2" height="9.8" fill="url(#hatch1)"/>
<line x1="242.2" y1="55.7" x2="270.5" y2="55.7" stroke="#cc2929" stroke-width="2.15" stroke-dasharray="7.75 3.3"/>
<line x1="446.4" y1="35.2" x2="473.3" y2="35.2" stroke="#cc2929" stroke-width="2.15" stroke-linecap="square"/>
<text x="65.00" y="39.60" text-anchor="start" fill="#222222" font-size="14.7" textLength="58.12" lengthAdjust="spacingAndGlyphs">Genuine</text>
<text x="65.00" y="60.10" text-anchor="start" fill="#222222" font-size="14.7" textLength="148.51" lengthAdjust="spacingAndGlyphs">Zero-effort impostors</text>
<text x="281.80" y="39.60" text-anchor="start" fill="#222222" font-size="14.7" textLength="135.79" lengthAdjust="spacingAndGlyphs">Presentation attack</text>
<text x="281.80" y="60.10" text-anchor="start" fill="#222222" font-size="14.7" textLength="95.15" lengthAdjust="spacingAndGlyphs">FAR threshold</text>
<text x="484.40" y="39.60" text-anchor="start" fill="#222222" font-size="14.7" textLength="43.61" lengthAdjust="spacingAndGlyphs">IAPMR</text>
<path d="M142.10,80.6V336.1M196.65,80.6V336.1M251.20,80.6V336.1M305.75,80.6V336.1M360.30,80.6V336.1M414.85,80.6V336.1M113.1,296.32H424.0M113.1,256.64H424.0M113.1,216.96H424.0M113.1,177.28H424.0M113.1,137.60H424.0M113.1,97.92H424.0" stroke="#b4b4b4" stroke-width="1.1" fill="none"/>
<g clip-path="url(#clip)">
<g fill="#208d27" fill-opacity="0.95"><rect x="311.10" y="318.30" width="7.57" height="17.70"/><rect x="318.67" y="321.72" width="7.57" height="14.28"/><rect x="326.24" y="277.27" width="7.57" height="58.73"/><rect x="333.81" y="215.37" width="7.57" height="120.63"/><rect x="341.38" y="177.28" width="7.57" height="158.72"/><rect x="348.95" y="177.28" width="7.57" height="158.72"/><rect x="356.52" y="106.25" width="7.57" height="229.75"/><rect x="364.09" y="91.97" width="7.57" height="244.03"/><rect x="371.66" y="135.62" width="7.57" height="200.38"/><rect x="379.23" y="221.32" width="7.57" height="114.68"/><rect x="386.80" y="268.15" width="7.57" height="67.85"/><rect x="394.37" y="301.08" width="7.57" height="34.92"/></g>
<g fill="#3176b0" fill-opacity="0.9"><rect x="144.20" y="334.41" width="8.96" height="1.59"/><rect x="153.16" y="330.25" width="8.96" height="5.75"/><rect x="162.12" y="320.29" width="8.96" height="15.71"/><rect x="171.08" y="298.58" width="8.96" height="37.42"/><rect x="180.04" y="262.20" width="8.96" height="73.80"/><rect x="189.00" y="207.60" width="8.96" height="128.40"/><rect x="197.96" y="166.57" width="8.96" height="169.43"/><rect x="206.92" y="142.96" width="8.96" height="193.04"/><rect x="215.88" y="143.55" width="8.96" height="192.45"/><rect x="224.84" y="186.01" width="8.96" height="149.99"/><rect x="233.80" y="235.61" width="8.96" height="100.39"/><rect x="242.76" y="273.70" width="8.96" height="62.30"/><rect x="251.72" y="304.26" width="8.96" height="31.74"/><rect x="260.68" y="317.95" width="8.96" height="18.05"/><rect x="269.64" y="328.46" width="8.96" height="7.54"/><rect x="278.60" y="333.22" width="8.96" height="2.78"/></g>
<g fill="#737373" fill-opacity="0.4"><rect x="161.20" y="333.22" width="12.87" height="2.78"/><rect x="174.07" y="298.30" width="12.87" height="37.70"/><rect x="186.94" y="234.42" width="12.87" height="101.58"/><rect x="199.81" y="224.10" width="12.87" height="111.90"/><rect x="212.68" y="241.56" width="12.87" height="94.44"/><rect x="225.55" y="259.02" width="12.87" height="76.98"/><rect x="238.42" y="273.70" width="12.87" height="62.30"/><rect x="251.29" y="277.27" width="12.87" height="58.73"/><rect x="264.16" y="244.74" width="12.87" height="91.26"/><rect x="277.03" y="278.07" width="12.87" height="57.93"/><rect x="289.90" y="304.65" width="12.87" height="31.35"/><rect x="302.77" y="310.01" width="12.87" height="25.99"/><rect x="315.64" y="309.22" width="12.87" height="26.78"/><rect x="328.51" y="314.18" width="12.87" height="21.82"/><rect x="341.38" y="311.80" width="12.87" height="24.20"/><rect x="354.25" y="329.25" width="12.87" height="6.75"/></g>
<path d="M161.20,336.00V333.22H174.07V298.30H186.94V234.42H199.81V224.10H212.68V241.56H225.55V259.02H238.42V273.70H251.29V277.27H264.16V244.74H277.03V278.07H289.90V304.65H302.77V310.01H315.64V309.22H328.51V314.18H341.38V311.80H354.25V329.25H367.12V336.00Z" fill="url(#hatch1)"/>
</g>
<line x1="291.7" y1="336.1" x2="291.7" y2="80.6" stroke="#cc2929" stroke-width="2.15" stroke-dasharray="7.75 3.35"/>
<polyline points="127.6,91.6 161.3,91.6 162.1,91.6 162.8,91.7 163.6,91.7 164.3,91.8 165.1,91.8 165.8,91.9 166.6,91.9 167.3,91.9 168.1,92.0 168.8,92.0 169.6,92.0 170.3,92.1 171.1,92.1 171.8,92.2 172.6,92.3 173.3,92.3 174.0,92.4 174.1,92.4 174.8,92.6 175.6,92.8 176.3,93.1 177.1,93.5 177.8,93.9 178.6,94.4 179.0,94.6 179.3,94.8 180.1,95.3 180.8,96.0 181.6,96.6 182.3,97.4 183.1,98.2 183.8,99.1 184.6,100.2 185.3,101.4 186.1,102.7 186.4,103.2 186.8,104.0 187.6,105.6 188.3,107.2 189.1,108.9 189.8,110.6 190.6,112.3 191.3,114.0 192.1,115.7 192.8,117.3 193.6,119.0 194.3,120.7 194.7,121.4 195.1,122.2 195.8,123.8 196.6,125.2 197.3,126.7 198.1,128.2 198.8,129.7 199.6,131.2 199.7,131.4 200.3,132.7 201.1,134.3 201.8,135.8 202.6,137.4 203.3,139.0 204.1,140.7 204.7,142.1 204.8,142.5 205.6,144.4 206.3,146.4 207.1,148.4 207.8,150.4 208.6,152.4 208.8,152.9 209.3,154.2 210.1,156.0 210.8,157.8 211.6,159.5 212.3,161.2 213.1,162.9 213.8,164.5 213.8,164.6 214.6,166.3 215.3,168.0 216.1,169.6 216.8,171.3 217.6,172.9 218.3,174.5 218.8,175.3 219.1,176.0 219.8,177.6 220.6,179.1 221.3,180.6 222.1,182.0 222.8,183.4 222.9,183.5 223.6,184.7 224.3,185.9 225.1,187.0 225.8,188.2 226.6,189.3 227.3,190.5 228.1,191.7 228.7,192.7 228.8,193.0 229.6,194.4 230.3,195.9 231.1,197.5 231.8,199.2 232.6,200.7 233.3,202.2 234.1,203.5 234.8,204.7 235.6,205.8 236.3,206.8 237.1,207.8 237.8,208.8 238.6,209.8 239.3,210.7 239.9,211.5 240.1,211.8 240.8,212.9 241.6,213.9 242.3,215.1 243.1,216.2 243.8,217.3 244.6,218.5 245.3,219.6 246.1,220.7 246.8,221.8 247.6,222.9 248.3,224.0 249.1,225.0 249.8,226.0 250.6,226.9 251.3,227.8 251.5,228.0 252.1,228.7 252.8,229.4 253.6,230.1 254.3,230.8 255.1,231.5 255.8,232.2 256.6,233.0 257.3,233.8 257.4,233.9 258.1,234.8 258.9,235.7 259.6,236.7 260.4,237.8 261.1,238.9 261.9,240.0 262.6,241.1 263.4,242.3 264.1,243.5 264.9,244.8 265.6,246.0 266.4,247.3 267.1,248.6 267.9,250.0 268.1,250.4 268.6,251.3 269.4,252.8 270.1,254.3 270.9,256.0 271.6,257.7 272.4,259.4 273.1,261.1 273.9,262.8 274.6,264.5 275.4,266.1 276.1,267.7 276.9,269.1 277.6,270.4 278.0,271.1 278.4,271.7 279.1,272.8 279.9,273.9 280.6,274.9 281.4,275.9 282.1,276.9 282.9,277.8 283.6,278.7 284.4,279.6 285.1,280.5 285.9,281.4 286.3,281.9 286.6,282.2 287.4,283.1 288.1,284.0 288.9,284.8 289.6,285.6 290.4,286.4 291.1,287.1 291.8,287.7 291.9,287.7 292.6,288.3 293.4,288.8 294.1,289.3 294.9,289.8 295.6,290.3 296.4,290.7 297.1,291.1 297.9,291.5 298.6,292.0 299.4,292.4 299.6,292.5 300.1,292.8 300.9,293.1 301.6,293.5 302.4,293.8 303.1,294.2 303.7,294.6 303.9,294.7 304.6,295.3 305.4,296.1 306.1,297.0 306.9,297.8 307.6,298.4 308.4,298.7 308.5,298.7 309.1,298.7 309.9,298.8 310.6,298.8 311.4,298.8 312.1,298.9 312.7,298.9 312.9,298.9 313.6,299.3 314.4,299.9 315.1,300.7 315.9,301.5 316.1,301.7 316.6,302.1 317.4,302.8 318.1,303.4 318.9,304.1 319.6,304.6 320.3,305.1 320.4,305.1 321.1,305.6 321.9,305.9 322.6,306.3 323.4,306.6 324.1,306.9 324.9,307.2 325.6,307.6 326.4,307.9 327.1,308.2 327.4,308.4 327.9,308.6 328.6,309.1 329.4,309.5 330.1,309.9 330.9,310.4 331.6,310.9 332.4,311.3 333.1,311.8 333.9,312.2 334.6,312.7 335.4,313.1 336.0,313.4 336.1,313.4 336.9,313.8 337.6,314.1 338.4,314.4 339.1,314.8 339.9,315.1 340.6,315.3 341.4,315.6 342.1,315.9 342.9,316.2 343.6,316.5 344.4,316.8 345.1,317.1 345.9,317.4 346.0,317.5 346.6,317.8 347.4,318.1 348.1,318.5 348.9,318.9 349.6,319.4 350.4,319.8 351.1,320.2 351.9,320.6 352.6,321.0 353.4,321.3 354.1,321.7 354.9,322.0 355.6,322.2 355.9,322.3 356.4,322.4 357.1,322.6 357.9,322.9 358.6,323.1 359.4,323.3 360.1,323.5 360.9,323.6 361.6,323.8 362.4,324.0 363.1,324.1 363.9,324.2 364.6,324.2 365.4,324.3 409.6,324.3" fill="none" stroke="#cc2929" stroke-width="2.15" stroke-linejoin="round" stroke-linecap="square"/>
<circle cx="291.7" cy="287.83" r="4.7" fill="#cc2929"/>
<text x="306.50" y="287.63" text-anchor="start" fill="#cc2929" font-size="14.7" textLength="44.12" lengthAdjust="spacingAndGlyphs">15.8%</text>
<path d="M113.1,336.1H424.0" stroke="#222222" stroke-width="2" fill="none" stroke-linecap="square"/>
<path d="M424.0,80.6V337.1" stroke="#c22727" stroke-width="2" fill="none" stroke-linecap="butt"/>
<path d="M113.1,336.1V80.6H424.0" stroke="#222222" stroke-width="2" fill="none" stroke-linecap="square"/>
<text x="108.30" y="341.40" text-anchor="end" fill="#222222" font-size="14.7" textLength="8.84" lengthAdjust="spacingAndGlyphs">0</text>
<text x="108.30" y="301.72" text-anchor="end" fill="#222222" font-size="14.7" textLength="8.84" lengthAdjust="spacingAndGlyphs">1</text>
<text x="108.30" y="262.04" text-anchor="end" fill="#222222" font-size="14.7" textLength="8.84" lengthAdjust="spacingAndGlyphs">2</text>
<text x="108.30" y="222.36" text-anchor="end" fill="#222222" font-size="14.7" textLength="8.84" lengthAdjust="spacingAndGlyphs">3</text>
<text x="108.30" y="182.68" text-anchor="end" fill="#222222" font-size="14.7" textLength="8.84" lengthAdjust="spacingAndGlyphs">4</text>
<text x="108.30" y="143.00" text-anchor="end" fill="#222222" font-size="14.7" textLength="8.84" lengthAdjust="spacingAndGlyphs">5</text>
<text x="108.30" y="103.32" text-anchor="end" fill="#222222" font-size="14.7" textLength="8.84" lengthAdjust="spacingAndGlyphs">6</text>
<text x="142.10" y="351.70" text-anchor="middle" fill="#222222" font-size="14.7" textLength="32.55" lengthAdjust="spacingAndGlyphs">−1.2</text>
<text x="196.65" y="351.70" text-anchor="middle" fill="#222222" font-size="14.7" textLength="32.55" lengthAdjust="spacingAndGlyphs">−1.0</text>
<text x="251.20" y="351.70" text-anchor="middle" fill="#222222" font-size="14.7" textLength="32.55" lengthAdjust="spacingAndGlyphs">−0.8</text>
<text x="305.75" y="351.70" text-anchor="middle" fill="#222222" font-size="14.7" textLength="32.55" lengthAdjust="spacingAndGlyphs">−0.6</text>
<text x="360.30" y="351.70" text-anchor="middle" fill="#222222" font-size="14.7" textLength="32.55" lengthAdjust="spacingAndGlyphs">−0.4</text>
<text x="414.85" y="351.70" text-anchor="middle" fill="#222222" font-size="14.7" textLength="32.55" lengthAdjust="spacingAndGlyphs">−0.2</text>
<text x="428.70" y="329.60" text-anchor="start" fill="#cc2929" font-size="14.7" textLength="8.84" lengthAdjust="spacingAndGlyphs">0</text>
<text x="428.70" y="283.06" text-anchor="start" fill="#cc2929" font-size="14.7" textLength="17.68" lengthAdjust="spacingAndGlyphs">20</text>
<text x="428.70" y="236.52" text-anchor="start" fill="#cc2929" font-size="14.7" textLength="17.68" lengthAdjust="spacingAndGlyphs">40</text>
<text x="428.70" y="189.98" text-anchor="start" fill="#cc2929" font-size="14.7" textLength="17.68" lengthAdjust="spacingAndGlyphs">60</text>
<text x="428.70" y="143.44" text-anchor="start" fill="#cc2929" font-size="14.7" textLength="17.68" lengthAdjust="spacingAndGlyphs">80</text>
<text x="428.70" y="96.90" text-anchor="start" fill="#cc2929" font-size="14.7" textLength="26.51" lengthAdjust="spacingAndGlyphs">100</text>
<text x="268.60" y="370.80" text-anchor="middle" fill="#222222" font-size="14.7" textLength="88.80" lengthAdjust="spacingAndGlyphs">Score values</text>
<text x="91.00" y="207.80" text-anchor="middle" fill="#222222" font-size="14.7" textLength="129.32" lengthAdjust="spacingAndGlyphs" transform="rotate(-90 91.00 207.80)">Probability density</text>
<text x="472.00" y="208.20" text-anchor="middle" fill="#cc2929" font-size="14.7" textLength="72.06" lengthAdjust="spacingAndGlyphs" transform="rotate(-90 472.00 208.20)">IAPMR (%)</text>
<text class="cap" x="277.30" y="415.6" text-anchor="middle" fill="#000" stroke="#000" stroke-width="0.35" font-size="26.9">(d) SSMB - All PAs</text>
</g>
<g transform="translate(568,416)">
<rect x="25.8" y="30.2" width="28.2" height="9.8" fill="#208d27" fill-opacity="0.95"/>
<rect x="25.8" y="50.7" width="28.2" height="9.8" fill="#3176b0" fill-opacity="0.90"/>
<rect x="242.2" y="30.2" width="28.2" height="9.8" fill="#737373" fill-opacity="0.40"/>
<rect x="242.2" y="30.2" width="28.2" height="9.8" fill="url(#hatch1)"/>
<line x1="242.2" y1="55.7" x2="270.5" y2="55.7" stroke="#cc2929" stroke-width="2.15" stroke-dasharray="7.75 3.3"/>
<line x1="446.4" y1="35.2" x2="473.3" y2="35.2" stroke="#cc2929" stroke-width="2.15" stroke-linecap="square"/>
<text x="65.00" y="39.60" text-anchor="start" fill="#222222" font-size="14.7" textLength="58.12" lengthAdjust="spacingAndGlyphs">Genuine</text>
<text x="65.00" y="60.10" text-anchor="start" fill="#222222" font-size="14.7" textLength="148.51" lengthAdjust="spacingAndGlyphs">Zero-effort impostors</text>
<text x="281.80" y="39.60" text-anchor="start" fill="#222222" font-size="14.7" textLength="135.79" lengthAdjust="spacingAndGlyphs">Presentation attack</text>
<text x="281.80" y="60.10" text-anchor="start" fill="#222222" font-size="14.7" textLength="95.15" lengthAdjust="spacingAndGlyphs">FAR threshold</text>
<text x="484.40" y="39.60" text-anchor="start" fill="#222222" font-size="14.7" textLength="43.61" lengthAdjust="spacingAndGlyphs">IAPMR</text>
<path d="M142.10,80.6V336.1M196.65,80.6V336.1M251.20,80.6V336.1M305.75,80.6V336.1M360.30,80.6V336.1M414.85,80.6V336.1M113.1,296.32H424.0M113.1,256.64H424.0M113.1,216.96H424.0M113.1,177.28H424.0M113.1,137.60H424.0M113.1,97.92H424.0" stroke="#b4b4b4" stroke-width="1.1" fill="none"/>
<g clip-path="url(#clip)">
<g fill="#208d27" fill-opacity="0.95"><rect x="311.10" y="318.30" width="7.57" height="17.70"/><rect x="318.67" y="321.72" width="7.57" height="14.28"/><rect x="326.24" y="277.27" width="7.57" height="58.73"/><rect x="333.81" y="215.37" width="7.57" height="120.63"/><rect x="341.38" y="177.28" width="7.57" height="158.72"/><rect x="348.95" y="177.28" width="7.57" height="158.72"/><rect x="356.52" y="106.25" width="7.57" height="229.75"/><rect x="364.09" y="91.97" width="7.57" height="244.03"/><rect x="371.66" y="135.62" width="7.57" height="200.38"/><rect x="379.23" y="221.32" width="7.57" height="114.68"/><rect x="386.80" y="268.15" width="7.57" height="67.85"/><rect x="394.37" y="301.08" width="7.57" height="34.92"/></g>
<g fill="#3176b0" fill-opacity="0.9"><rect x="144.20" y="334.41" width="8.96" height="1.59"/><rect x="153.16" y="330.25" width="8.96" height="5.75"/><rect x="162.12" y="320.29" width="8.96" height="15.71"/><rect x="171.08" y="298.58" width="8.96" height="37.42"/><rect x="180.04" y="262.20" width="8.96" height="73.80"/><rect x="189.00" y="207.60" width="8.96" height="128.40"/><rect x="197.96" y="166.57" width="8.96" height="169.43"/><rect x="206.92" y="142.96" width="8.96" height="193.04"/><rect x="215.88" y="143.55" width="8.96" height="192.45"/><rect x="224.84" y="186.01" width="8.96" height="149.99"/><rect x="233.80" y="235.61" width="8.96" height="100.39"/><rect x="242.76" y="273.70" width="8.96" height="62.30"/><rect x="251.72" y="304.26" width="8.96" height="31.74"/><rect x="260.68" y="317.95" width="8.96" height="18.05"/><rect x="269.64" y="328.46" width="8.96" height="7.54"/><rect x="278.60" y="333.22" width="8.96" height="2.78"/></g>
<g fill="#737373" fill-opacity="0.4"><rect x="250.80" y="330.84" width="10.60" height="5.16"/><rect x="261.40" y="334.81" width="10.60" height="1.19"/><rect x="272.00" y="324.49" width="10.60" height="11.51"/><rect x="282.60" y="324.49" width="10.60" height="11.51"/><rect x="293.20" y="286.80" width="10.60" height="49.20"/><rect x="303.80" y="275.29" width="10.60" height="60.71"/><rect x="314.40" y="139.98" width="10.60" height="196.02"/><rect x="325.00" y="121.33" width="10.60" height="214.67"/><rect x="335.60" y="146.33" width="10.60" height="189.67"/><rect x="346.20" y="139.98" width="10.60" height="196.02"/><rect x="356.80" y="262.00" width="10.60" height="74.00"/></g>
<path d="M250.80,336.00V330.84H261.40V334.81H272.00V324.49H282.60V324.49H293.20V286.80H303.80V275.29H314.40V139.98H325.00V121.33H335.60V146.33H346.20V139.98H356.80V262.00H367.40V336.00Z" fill="url(#hatch1)"/>
</g>
<line x1="291.7" y1="336.1" x2="291.7" y2="80.6" stroke="#cc2929" stroke-width="2.15" stroke-dasharray="7.75 3.35"/>
<polyline points="127.5,91.6 247.7,91.6 248.2,91.7 249.0,92.2 249.8,92.7 250.2,92.8 276.8,92.8 277.5,93.2 278.2,94.1 279.0,95.0 279.8,95.6 280.0,95.7 280.5,95.8 281.2,95.8 282.0,95.9 282.8,95.9 283.5,95.9 284.2,95.9 285.0,95.9 285.8,96.0 286.5,96.0 287.2,96.1 287.5,96.1 288.0,96.2 288.8,96.5 289.5,96.9 290.2,97.5 291.0,98.1 291.6,98.6 291.8,98.7 292.5,99.7 293.2,100.9 294.0,102.2 294.8,103.5 295.5,104.6 295.8,104.9 296.2,105.3 297.0,105.9 297.8,106.4 298.5,106.9 299.2,107.3 300.0,107.8 300.8,108.3 301.5,108.9 301.6,109.0 302.2,109.7 303.0,110.5 303.8,111.5 304.5,112.6 304.9,113.1 305.2,113.6 306.0,114.9 306.8,116.2 307.5,117.3 308.2,118.1 308.2,118.1 309.0,118.6 309.8,119.0 310.5,119.2 311.2,119.5 312.0,120.0 312.7,120.6 312.8,120.7 313.5,123.0 314.2,126.9 314.8,129.7 315.0,130.6 315.8,134.0 316.5,137.4 317.2,141.0 317.3,141.3 318.0,145.2 318.8,149.8 319.5,154.3 320.2,158.1 320.6,159.5 321.0,160.8 321.8,162.8 322.5,164.5 323.2,166.1 323.9,167.8 324.0,168.1 324.8,170.2 325.5,172.5 326.2,174.8 327.0,177.3 327.8,179.9 328.1,181.1 328.5,182.5 329.2,185.2 330.0,188.1 330.8,191.3 331.4,194.3 331.5,194.8 332.2,199.4 333.0,204.2 333.3,206.0 333.8,208.4 334.5,212.3 335.2,216.0 335.9,218.9 336.0,219.3 336.8,222.3 337.5,225.1 338.2,227.7 339.0,230.2 339.8,232.7 340.5,235.5 341.2,238.4 341.7,240.4 342.0,241.8 342.8,245.9 343.5,250.4 344.2,254.8 345.0,258.7 345.8,262.0 346.5,264.8 347.2,267.5 348.0,270.1 348.8,273.0 349.5,276.2 350.0,278.6 350.2,280.0 351.0,285.5 351.8,291.8 352.5,297.6 353.2,301.5 353.3,301.7 354.0,303.8 354.8,305.6 355.5,307.0 356.2,308.3 357.0,309.5 357.8,310.7 358.3,311.7 358.5,312.1 359.2,313.4 360.0,314.8 360.8,316.1 361.5,317.4 362.2,318.6 363.0,319.7 363.2,320.0 363.8,320.8 364.5,322.1 365.2,323.2 366.0,324.0 366.6,324.2 409.6,324.2" fill="none" stroke="#cc2929" stroke-width="2.15" stroke-linejoin="round" stroke-linecap="square"/>
<circle cx="291.7" cy="98.88" r="4.7" fill="#cc2929"/>
<text x="306.50" y="98.68" text-anchor="start" fill="#cc2929" font-size="14.7" textLength="44.12" lengthAdjust="spacingAndGlyphs">97.0%</text>
<path d="M113.1,336.1H424.0" stroke="#222222" stroke-width="2" fill="none" stroke-linecap="square"/>
<path d="M424.0,80.6V337.1" stroke="#c22727" stroke-width="2" fill="none" stroke-linecap="butt"/>
<path d="M113.1,336.1V80.6H424.0" stroke="#222222" stroke-width="2" fill="none" stroke-linecap="square"/>
<text x="108.30" y="341.40" text-anchor="end" fill="#222222" font-size="14.7" textLength="8.84" lengthAdjust="spacingAndGlyphs">0</text>
<text x="108.30" y="301.72" text-anchor="end" fill="#222222" font-size="14.7" textLength="8.84" lengthAdjust="spacingAndGlyphs">1</text>
<text x="108.30" y="262.04" text-anchor="end" fill="#222222" font-size="14.7" textLength="8.84" lengthAdjust="spacingAndGlyphs">2</text>
<text x="108.30" y="222.36" text-anchor="end" fill="#222222" font-size="14.7" textLength="8.84" lengthAdjust="spacingAndGlyphs">3</text>
<text x="108.30" y="182.68" text-anchor="end" fill="#222222" font-size="14.7" textLength="8.84" lengthAdjust="spacingAndGlyphs">4</text>
<text x="108.30" y="143.00" text-anchor="end" fill="#222222" font-size="14.7" textLength="8.84" lengthAdjust="spacingAndGlyphs">5</text>
<text x="108.30" y="103.32" text-anchor="end" fill="#222222" font-size="14.7" textLength="8.84" lengthAdjust="spacingAndGlyphs">6</text>
<text x="142.10" y="351.70" text-anchor="middle" fill="#222222" font-size="14.7" textLength="32.55" lengthAdjust="spacingAndGlyphs">−1.2</text>
<text x="196.65" y="351.70" text-anchor="middle" fill="#222222" font-size="14.7" textLength="32.55" lengthAdjust="spacingAndGlyphs">−1.0</text>
<text x="251.20" y="351.70" text-anchor="middle" fill="#222222" font-size="14.7" textLength="32.55" lengthAdjust="spacingAndGlyphs">−0.8</text>
<text x="305.75" y="351.70" text-anchor="middle" fill="#222222" font-size="14.7" textLength="32.55" lengthAdjust="spacingAndGlyphs">−0.6</text>
<text x="360.30" y="351.70" text-anchor="middle" fill="#222222" font-size="14.7" textLength="32.55" lengthAdjust="spacingAndGlyphs">−0.4</text>
<text x="414.85" y="351.70" text-anchor="middle" fill="#222222" font-size="14.7" textLength="32.55" lengthAdjust="spacingAndGlyphs">−0.2</text>
<text x="428.70" y="329.60" text-anchor="start" fill="#cc2929" font-size="14.7" textLength="8.84" lengthAdjust="spacingAndGlyphs">0</text>
<text x="428.70" y="283.06" text-anchor="start" fill="#cc2929" font-size="14.7" textLength="17.68" lengthAdjust="spacingAndGlyphs">20</text>
<text x="428.70" y="236.52" text-anchor="start" fill="#cc2929" font-size="14.7" textLength="17.68" lengthAdjust="spacingAndGlyphs">40</text>
<text x="428.70" y="189.98" text-anchor="start" fill="#cc2929" font-size="14.7" textLength="17.68" lengthAdjust="spacingAndGlyphs">60</text>
<text x="428.70" y="143.44" text-anchor="start" fill="#cc2929" font-size="14.7" textLength="17.68" lengthAdjust="spacingAndGlyphs">80</text>
<text x="428.70" y="96.90" text-anchor="start" fill="#cc2929" font-size="14.7" textLength="26.51" lengthAdjust="spacingAndGlyphs">100</text>
<text x="268.60" y="370.80" text-anchor="middle" fill="#222222" font-size="14.7" textLength="88.80" lengthAdjust="spacingAndGlyphs">Score values</text>
<text x="91.00" y="207.80" text-anchor="middle" fill="#222222" font-size="14.7" textLength="129.32" lengthAdjust="spacingAndGlyphs" transform="rotate(-90 91.00 207.80)">Probability density</text>
<text x="472.00" y="208.20" text-anchor="middle" fill="#cc2929" font-size="14.7" textLength="72.06" lengthAdjust="spacingAndGlyphs" transform="rotate(-90 472.00 208.20)">IAPMR (%)</text>
<text class="cap" x="277.30" y="415.6" text-anchor="middle" fill="#000" stroke="#000" stroke-width="0.35" font-size="26.9">(e) SSMB - Laser Photos</text>
</g>
<g transform="translate(1136,416)">
<rect x="25.8" y="30.2" width="28.2" height="9.8" fill="#208d27" fill-opacity="0.95"/>
<rect x="25.8" y="50.7" width="28.2" height="9.8" fill="#3176b0" fill-opacity="0.90"/>
<rect x="242.2" y="30.2" width="28.2" height="9.8" fill="#737373" fill-opacity="0.40"/>
<rect x="242.2" y="30.2" width="28.2" height="9.8" fill="url(#hatch1)"/>
<line x1="242.2" y1="55.7" x2="270.5" y2="55.7" stroke="#cc2929" stroke-width="2.15" stroke-dasharray="7.75 3.3"/>
<line x1="446.4" y1="35.2" x2="473.3" y2="35.2" stroke="#cc2929" stroke-width="2.15" stroke-linecap="square"/>
<text x="65.00" y="39.60" text-anchor="start" fill="#222222" font-size="14.7" textLength="58.12" lengthAdjust="spacingAndGlyphs">Genuine</text>
<text x="65.00" y="60.10" text-anchor="start" fill="#222222" font-size="14.7" textLength="148.51" lengthAdjust="spacingAndGlyphs">Zero-effort impostors</text>
<text x="281.80" y="39.60" text-anchor="start" fill="#222222" font-size="14.7" textLength="135.79" lengthAdjust="spacingAndGlyphs">Presentation attack</text>
<text x="281.80" y="60.10" text-anchor="start" fill="#222222" font-size="14.7" textLength="95.15" lengthAdjust="spacingAndGlyphs">FAR threshold</text>
<text x="484.40" y="39.60" text-anchor="start" fill="#222222" font-size="14.7" textLength="43.61" lengthAdjust="spacingAndGlyphs">IAPMR</text>
<path d="M142.10,80.6V336.1M196.65,80.6V336.1M251.20,80.6V336.1M305.75,80.6V336.1M360.30,80.6V336.1M414.85,80.6V336.1M113.1,296.32H424.0M113.1,256.64H424.0M113.1,216.96H424.0M113.1,177.28H424.0M113.1,137.60H424.0M113.1,97.92H424.0" stroke="#b4b4b4" stroke-width="1.1" fill="none"/>
<g clip-path="url(#clip)">
<g fill="#208d27" fill-opacity="0.95"><rect x="311.10" y="318.30" width="7.57" height="17.70"/><rect x="318.67" y="321.72" width="7.57" height="14.28"/><rect x="326.24" y="277.27" width="7.57" height="58.73"/><rect x="333.81" y="215.37" width="7.57" height="120.63"/><rect x="341.38" y="177.28" width="7.57" height="158.72"/><rect x="348.95" y="177.28" width="7.57" height="158.72"/><rect x="356.52" y="106.25" width="7.57" height="229.75"/><rect x="364.09" y="91.97" width="7.57" height="244.03"/><rect x="371.66" y="135.62" width="7.57" height="200.38"/><rect x="379.23" y="221.32" width="7.57" height="114.68"/><rect x="386.80" y="268.15" width="7.57" height="67.85"/><rect x="394.37" y="301.08" width="7.57" height="34.92"/></g>
<g fill="#3176b0" fill-opacity="0.9"><rect x="144.20" y="334.41" width="8.96" height="1.59"/><rect x="153.16" y="330.25" width="8.96" height="5.75"/><rect x="162.12" y="320.29" width="8.96" height="15.71"/><rect x="171.08" y="298.58" width="8.96" height="37.42"/><rect x="180.04" y="262.20" width="8.96" height="73.80"/><rect x="189.00" y="207.60" width="8.96" height="128.40"/><rect x="197.96" y="166.57" width="8.96" height="169.43"/><rect x="206.92" y="142.96" width="8.96" height="193.04"/><rect x="215.88" y="143.55" width="8.96" height="192.45"/><rect x="224.84" y="186.01" width="8.96" height="149.99"/><rect x="233.80" y="235.61" width="8.96" height="100.39"/><rect x="242.76" y="273.70" width="8.96" height="62.30"/><rect x="251.72" y="304.26" width="8.96" height="31.74"/><rect x="260.68" y="317.95" width="8.96" height="18.05"/><rect x="269.64" y="328.46" width="8.96" height="7.54"/><rect x="278.60" y="333.22" width="8.96" height="2.78"/></g>
<g fill="#737373" fill-opacity="0.4"><rect x="206.50" y="326.87" width="11.38" height="9.13"/><rect x="217.88" y="306.24" width="11.38" height="29.76"/><rect x="229.26" y="263.39" width="11.38" height="72.61"/><rect x="240.64" y="261.40" width="11.38" height="74.60"/><rect x="252.02" y="201.09" width="11.38" height="134.91"/><rect x="263.40" y="92.36" width="11.38" height="243.64"/><rect x="274.78" y="154.66" width="11.38" height="181.34"/><rect x="286.16" y="239.58" width="11.38" height="96.42"/><rect x="297.54" y="286.40" width="11.38" height="49.60"/><rect x="308.92" y="305.05" width="11.38" height="30.95"/><rect x="320.30" y="317.99" width="11.38" height="18.01"/></g>
<path d="M206.50,336.00V326.87H217.88V306.24H229.26V263.39H240.64V261.40H252.02V201.09H263.40V92.36H274.78V154.66H286.16V239.58H297.54V286.40H308.92V305.05H320.30V317.99H331.68V336.00Z" fill="url(#hatch1)"/>
</g>
<line x1="291.7" y1="336.1" x2="291.7" y2="80.6" stroke="#cc2929" stroke-width="2.15" stroke-dasharray="7.75 3.35"/>
<polyline points="127.5,91.6 203.2,91.6 204.0,91.6 204.8,91.7 205.5,91.9 206.2,92.0 207.0,92.2 207.8,92.3 208.0,92.4 208.5,92.5 209.2,92.8 210.0,93.1 210.8,93.4 211.5,93.6 212.2,93.8 212.2,93.8 213.0,93.8 213.8,93.9 214.5,93.9 215.2,94.0 216.0,94.0 216.8,94.1 217.1,94.1 217.5,94.2 218.2,94.4 219.0,94.7 219.8,95.1 220.5,95.5 221.2,95.8 222.0,96.2 222.1,96.2 222.8,96.4 223.5,96.6 224.2,96.8 225.0,97.0 225.8,97.2 226.5,97.6 227.1,97.9 227.2,98.0 228.0,99.4 228.8,101.5 229.5,103.1 229.6,103.2 230.2,103.9 231.0,104.5 231.8,105.0 232.5,105.5 233.2,106.1 233.7,106.5 234.0,106.8 234.8,107.6 235.5,108.5 236.2,109.5 237.0,110.7 237.8,112.0 238.5,113.6 239.2,115.1 239.5,115.6 240.0,116.5 240.8,117.8 241.5,119.0 242.2,120.1 243.0,121.3 243.8,122.6 244.5,123.9 245.2,125.3 246.0,126.8 246.8,128.3 247.5,129.9 248.2,131.4 249.0,133.0 249.4,133.8 249.8,134.5 250.5,136.0 251.2,137.4 252.0,138.8 252.8,140.2 253.5,141.7 254.2,143.3 255.0,144.9 255.2,145.4 255.8,146.7 256.5,148.7 257.2,150.8 258.0,152.9 258.6,154.6 258.8,155.0 259.5,157.1 260.2,159.3 261.0,161.5 261.8,163.8 262.5,166.3 262.7,167.0 263.2,169.1 264.0,172.2 264.8,175.5 265.5,178.9 266.0,181.1 266.2,182.2 267.0,185.2 267.8,188.3 268.5,191.7 269.2,195.7 269.3,196.0 270.0,201.4 270.8,207.7 270.8,208.0 271.5,212.5 272.2,216.8 273.0,220.8 273.8,224.7 273.9,225.5 274.5,228.6 275.2,232.3 276.0,235.9 276.8,239.4 277.5,242.9 278.2,246.2 278.9,248.7 279.0,249.3 279.8,252.4 280.5,255.5 281.2,258.5 282.0,261.4 282.8,264.2 283.5,266.9 284.2,269.5 285.0,272.0 285.5,273.6 285.8,274.4 286.5,276.7 287.2,278.9 288.0,281.1 288.8,283.2 289.5,285.2 290.2,287.0 291.0,288.7 291.3,289.3 291.8,290.2 292.5,291.6 293.2,292.9 294.0,294.1 294.8,295.3 295.5,296.4 296.2,297.4 296.3,297.5 297.0,298.4 297.8,299.4 298.5,300.3 299.2,301.2 300.0,302.1 300.8,302.9 301.5,303.8 301.9,304.3 302.2,304.7 303.0,305.7 303.8,306.7 304.5,307.7 305.2,308.7 306.0,309.6 306.8,310.4 307.5,311.1 307.6,311.2 308.2,311.8 309.0,312.4 309.8,312.9 310.5,313.1 311.2,313.1 312.0,313.2 312.6,313.2 312.8,313.2 313.5,313.5 314.2,314.1 315.0,314.9 315.8,315.8 316.5,316.6 317.2,317.4 317.6,317.7 318.0,318.0 318.8,318.6 319.5,319.1 320.2,319.6 321.0,320.1 321.8,320.6 321.8,320.6 322.5,321.1 323.2,321.6 324.0,322.2 324.8,322.7 325.5,323.2 326.2,323.5 326.9,323.7 327.0,323.7 327.8,323.8 328.5,323.9 329.2,324.0 330.0,324.1 330.8,324.2 331.5,324.2 409.6,324.2" fill="none" stroke="#cc2929" stroke-width="2.15" stroke-linejoin="round" stroke-linecap="square"/>
<circle cx="291.7" cy="289.23" r="4.7" fill="#cc2929"/>
<text x="306.50" y="289.03" text-anchor="start" fill="#cc2929" font-size="14.7" textLength="44.12" lengthAdjust="spacingAndGlyphs">15.2%</text>
<path d="M113.1,336.1H424.0" stroke="#222222" stroke-width="2" fill="none" stroke-linecap="square"/>
<path d="M424.0,80.6V337.1" stroke="#c22727" stroke-width="2" fill="none" stroke-linecap="butt"/>
<path d="M113.1,336.1V80.6H424.0" stroke="#222222" stroke-width="2" fill="none" stroke-linecap="square"/>
<text x="108.30" y="341.40" text-anchor="end" fill="#222222" font-size="14.7" textLength="8.84" lengthAdjust="spacingAndGlyphs">0</text>
<text x="108.30" y="301.72" text-anchor="end" fill="#222222" font-size="14.7" textLength="8.84" lengthAdjust="spacingAndGlyphs">1</text>
<text x="108.30" y="262.04" text-anchor="end" fill="#222222" font-size="14.7" textLength="8.84" lengthAdjust="spacingAndGlyphs">2</text>
<text x="108.30" y="222.36" text-anchor="end" fill="#222222" font-size="14.7" textLength="8.84" lengthAdjust="spacingAndGlyphs">3</text>
<text x="108.30" y="182.68" text-anchor="end" fill="#222222" font-size="14.7" textLength="8.84" lengthAdjust="spacingAndGlyphs">4</text>
<text x="108.30" y="143.00" text-anchor="end" fill="#222222" font-size="14.7" textLength="8.84" lengthAdjust="spacingAndGlyphs">5</text>
<text x="108.30" y="103.32" text-anchor="end" fill="#222222" font-size="14.7" textLength="8.84" lengthAdjust="spacingAndGlyphs">6</text>
<text x="142.10" y="351.70" text-anchor="middle" fill="#222222" font-size="14.7" textLength="32.55" lengthAdjust="spacingAndGlyphs">−1.2</text>
<text x="196.65" y="351.70" text-anchor="middle" fill="#222222" font-size="14.7" textLength="32.55" lengthAdjust="spacingAndGlyphs">−1.0</text>
<text x="251.20" y="351.70" text-anchor="middle" fill="#222222" font-size="14.7" textLength="32.55" lengthAdjust="spacingAndGlyphs">−0.8</text>
<text x="305.75" y="351.70" text-anchor="middle" fill="#222222" font-size="14.7" textLength="32.55" lengthAdjust="spacingAndGlyphs">−0.6</text>
<text x="360.30" y="351.70" text-anchor="middle" fill="#222222" font-size="14.7" textLength="32.55" lengthAdjust="spacingAndGlyphs">−0.4</text>
<text x="414.85" y="351.70" text-anchor="middle" fill="#222222" font-size="14.7" textLength="32.55" lengthAdjust="spacingAndGlyphs">−0.2</text>
<text x="428.70" y="329.60" text-anchor="start" fill="#cc2929" font-size="14.7" textLength="8.84" lengthAdjust="spacingAndGlyphs">0</text>
<text x="428.70" y="283.06" text-anchor="start" fill="#cc2929" font-size="14.7" textLength="17.68" lengthAdjust="spacingAndGlyphs">20</text>
<text x="428.70" y="236.52" text-anchor="start" fill="#cc2929" font-size="14.7" textLength="17.68" lengthAdjust="spacingAndGlyphs">40</text>
<text x="428.70" y="189.98" text-anchor="start" fill="#cc2929" font-size="14.7" textLength="17.68" lengthAdjust="spacingAndGlyphs">60</text>
<text x="428.70" y="143.44" text-anchor="start" fill="#cc2929" font-size="14.7" textLength="17.68" lengthAdjust="spacingAndGlyphs">80</text>
<text x="428.70" y="96.90" text-anchor="start" fill="#cc2929" font-size="14.7" textLength="26.51" lengthAdjust="spacingAndGlyphs">100</text>
<text x="268.60" y="370.80" text-anchor="middle" fill="#222222" font-size="14.7" textLength="88.80" lengthAdjust="spacingAndGlyphs">Score values</text>
<text x="91.00" y="207.80" text-anchor="middle" fill="#222222" font-size="14.7" textLength="129.32" lengthAdjust="spacingAndGlyphs" transform="rotate(-90 91.00 207.80)">Probability density</text>
<text x="472.00" y="208.20" text-anchor="middle" fill="#cc2929" font-size="14.7" textLength="72.06" lengthAdjust="spacingAndGlyphs" transform="rotate(-90 472.00 208.20)">IAPMR (%)</text>
<text class="cap" x="277.30" y="415.6" text-anchor="middle" fill="#000" stroke="#000" stroke-width="0.35" font-size="26.9">(f) SSMB - Masks</text>
</g>
</svg></body></html>
